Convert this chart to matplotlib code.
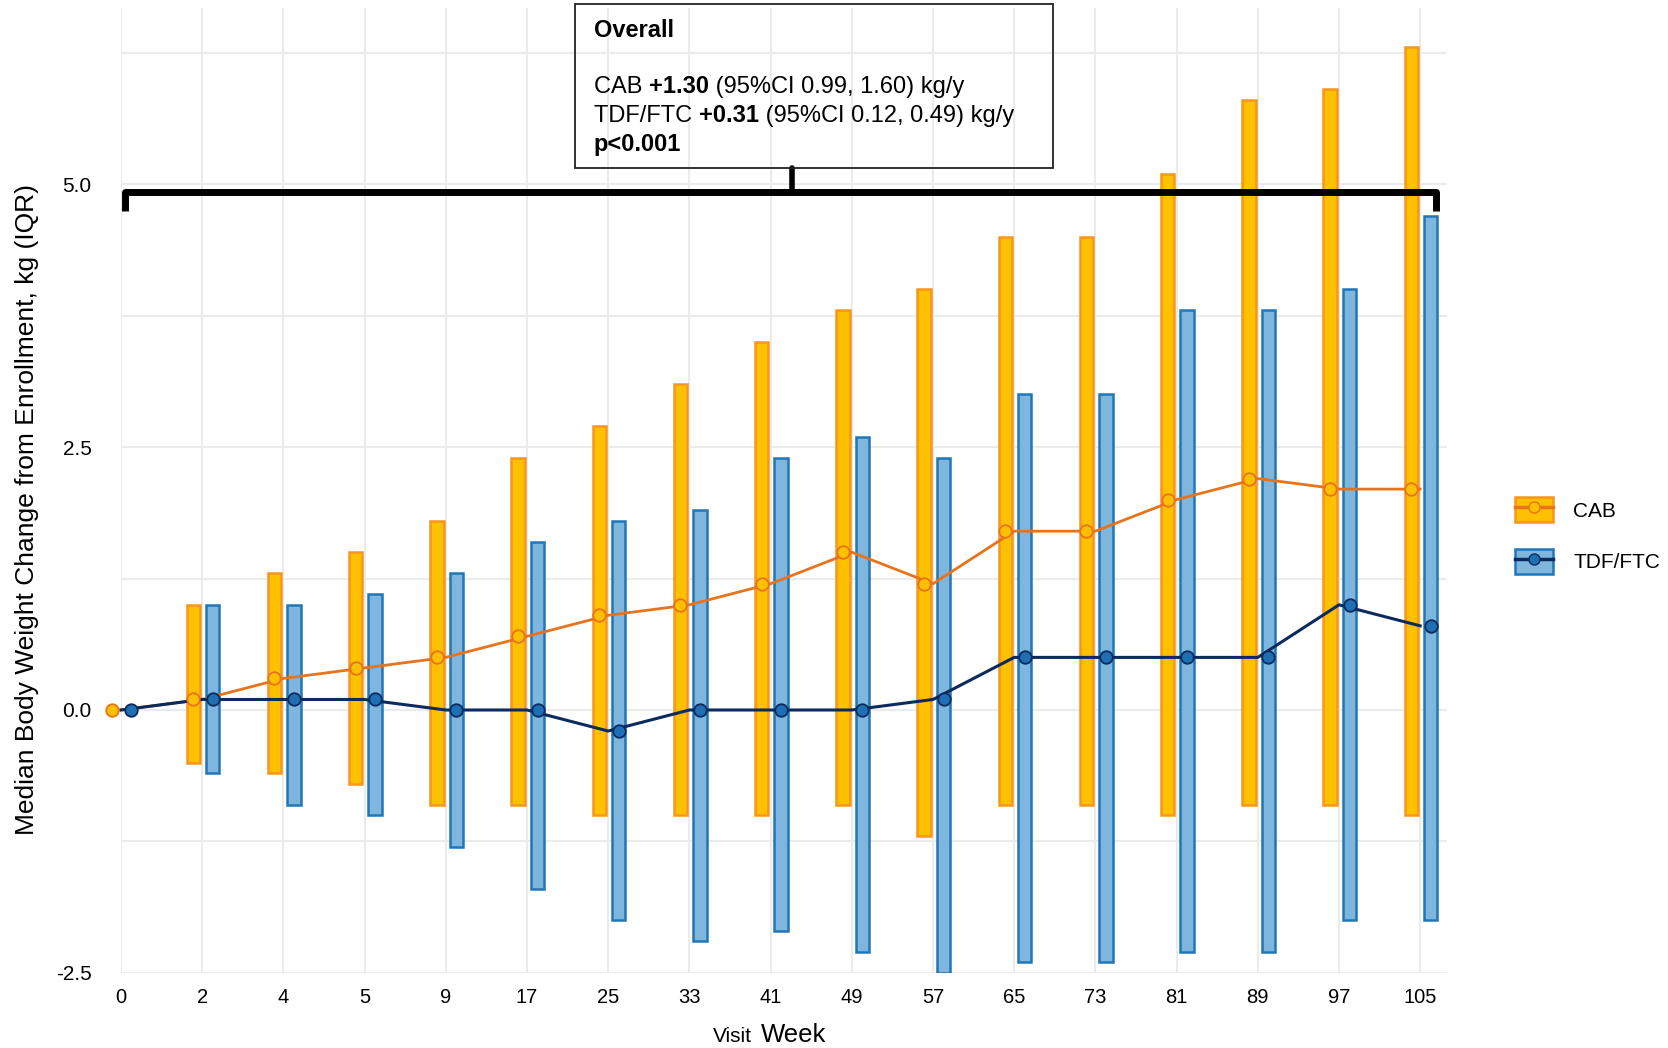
import matplotlib
matplotlib.use("Agg")
import matplotlib.pyplot as plt
from matplotlib.patches import Patch, Rectangle
from matplotlib.lines import Line2D
from matplotlib.legend_handler import HandlerTuple

plt.rcParams['font.family'] = ['Liberation Sans', 'DejaVu Sans']

# Data
weeks = ["0", "2", "4", "5", "9", "17", "25", "33", "41", "49", "57", "65", "73", "81", "89", "97", "105"]
cab_median = [0.0, 0.1, 0.3, 0.4, 0.5, 0.7, 0.9, 1.0, 1.2, 1.5, 1.2, 1.7, 1.7, 2.0, 2.2, 2.1, 2.1]
cab_q1 = [None, -0.5, -0.6, -0.7, -0.9, -0.9, -1.0, -1.0, -1.0, -0.9, -1.2, -0.9, -0.9, -1.0, -0.9, -0.9, -1.0]
cab_q3 = [None, 1.0, 1.3, 1.5, 1.8, 2.4, 2.7, 3.1, 3.5, 3.8, 4.0, 4.5, 4.5, 5.1, 5.8, 5.9, 6.3]
tdf_median = [0.0, 0.1, 0.1, 0.1, 0.0, 0.0, -0.2, 0.0, 0.0, 0.0, 0.1, 0.5, 0.5, 0.5, 0.5, 1.0, 0.8]
tdf_q1 = [None, -0.6, -0.9, -1.0, -1.3, -1.7, -2.0, -2.2, -2.1, -2.3, -2.5, -2.4, -2.4, -2.3, -2.3, -2.0, -2.0]
tdf_q3 = [None, 1.0, 1.0, 1.1, 1.3, 1.6, 1.8, 1.9, 2.4, 2.6, 2.4, 3.0, 3.0, 3.8, 3.8, 4.0, 4.7]

# colours
cab_fill, cab_edge, cab_line = "#FFC000", "#F7961E", "#E8731A"
tdf_fill, tdf_edge, tdf_line, tdf_dot = "#7FB6DE", "#2077B8", "#0B2A5E", "#1F6FB4"

fig = plt.figure(figsize=(16.68, 10.48), dpi=100)
ax = fig.add_axes([0.0725, 0.0716, 0.795, 0.9204])

xs = list(range(len(weeks)))
off_cab, off_tdf, bw = -0.11, 0.13, 0.165

# IQR bars
for i in xs:
    if cab_q1[i] is not None:
        ax.bar(i + off_cab, cab_q3[i] - cab_q1[i], bottom=cab_q1[i], width=bw,
               color=cab_fill, edgecolor=cab_edge, linewidth=1.8, zorder=2)
    if tdf_q1[i] is not None:
        ax.bar(i + off_tdf, tdf_q3[i] - tdf_q1[i], bottom=tdf_q1[i], width=bw,
               color=tdf_fill, edgecolor=tdf_edge, linewidth=1.8, zorder=2)

# median lines (through category centres) and markers (offset)
ax.plot(xs, cab_median, color=cab_line, lw=2.0, zorder=4, clip_on=False)
ax.plot([x + off_cab for x in xs], cab_median, ls='none', marker='o', ms=9,
        mfc=cab_fill, mec=cab_line, mew=1.3, zorder=5, clip_on=False)
ax.plot(xs, tdf_median, color=tdf_line, lw=2.2, zorder=4, clip_on=False)
ax.plot([x + off_tdf for x in xs], tdf_median, ls='none', marker='o', ms=9,
        mfc=tdf_dot, mec=tdf_line, mew=1.3, zorder=5, clip_on=False)

ax.set_xlim(0, 16.33)
ax.set_ylim(-2.5, 6.67)
ax.set_xticks(xs)
ax.set_xticklabels(weeks, fontsize=14.5)
ax.set_yticks([-2.5, 0, 2.5, 5.0])
ax.set_yticklabels(["-2.5", "0.0", "2.5", "5.0"], fontsize=15)
ax.set_yticks([-1.25, 1.25, 3.75, 6.25], minor=True)
ax.tick_params(axis='both', which='both', length=0)
ax.tick_params(axis='y', pad=21)
ax.tick_params(axis='x', pad=11)
ax.grid(True, which='major', color='#EBEBEB', lw=1.5, zorder=0)
ax.grid(True, which='minor', axis='y', color='#EBEBEB', lw=1.5, zorder=0)
ax.set_axisbelow(True)
for s in ax.spines.values():
    s.set_visible(False)

ax.set_ylabel("Median Body Weight Change from Enrollment, kg (IQR)", fontsize=19)
ax.yaxis.label.set_va('center')
ax.yaxis.set_label_coords(-0.071, 0.48)
fig.text(0.4275, 0.006, "Visit", fontsize=15, ha='left', va='baseline')
fig.text(0.456, 0.006, "Week", fontsize=18.5, ha='left', va='baseline')

# bracket over all visits
bx0, bx1, by, bhook, btop, bmid = 0.05, 16.2, 4.92, 4.74, 5.15, 8.27
ax.plot([bx0, bx0, bx1, bx1], [bhook, by, by, bhook], color='black', lw=5,
        solid_joinstyle='round', solid_capstyle='butt', zorder=6, clip_on=False)
ax.plot([bmid, bmid], [by, btop], color='black', lw=4, solid_capstyle='round', zorder=6, clip_on=False)

# summary box
fig.patches.append(Rectangle((0.3445, 0.8397), 0.2865, 0.1565, transform=fig.transFigure,
                             fill=False, edgecolor='#222222', lw=1.3))
tx = 0.356
fs = 17
fig.text(tx, 0.971, "Overall", fontsize=fs, fontweight='bold', va='center')


def rich_line(y, parts):
    t = fig.text(tx, y, parts[0][0], fontsize=fs, fontweight=parts[0][1], va='center')
    for s, w in parts[1:]:
        t = ax.annotate(s, xy=(1, 0), xycoords=t, fontsize=fs, fontweight=w,
                        ha='left', va='bottom', annotation_clip=False)


rich_line(0.917, [("CAB ", 'normal'), ("+1.30", 'bold'), (" (95%CI 0.99, 1.60) kg/y", 'normal')])
rich_line(0.889, [("TDF/FTC ", 'normal'), ("+0.31", 'bold'), (" (95%CI 0.12, 0.49) kg/y", 'normal')])
fig.text(tx, 0.862, "p<0.001", fontsize=fs, fontweight='bold', va='center')

# legend
h_cab = (Patch(facecolor=cab_fill, edgecolor=cab_edge, lw=1.8),
         Line2D([], [], color=cab_line, lw=2.5, marker='o', ms=8, mfc=cab_fill, mec=cab_line))
h_tdf = (Patch(facecolor=tdf_fill, edgecolor=tdf_edge, lw=1.8),
         Line2D([], [], color=tdf_line, lw=2.5, marker='o', ms=8, mfc=tdf_dot, mec=tdf_line))
fig.legend([h_cab, h_tdf], ["CAB", "TDF/FTC"], handler_map={tuple: HandlerTuple(ndivide=1)},
           loc='center left', bbox_to_anchor=(0.897, 0.489), frameon=False, fontsize=15,
           handlelength=1.85, handleheight=1.45, labelspacing=1.3, handletextpad=0.95)

fig.savefig("out.png", dpi=100)
